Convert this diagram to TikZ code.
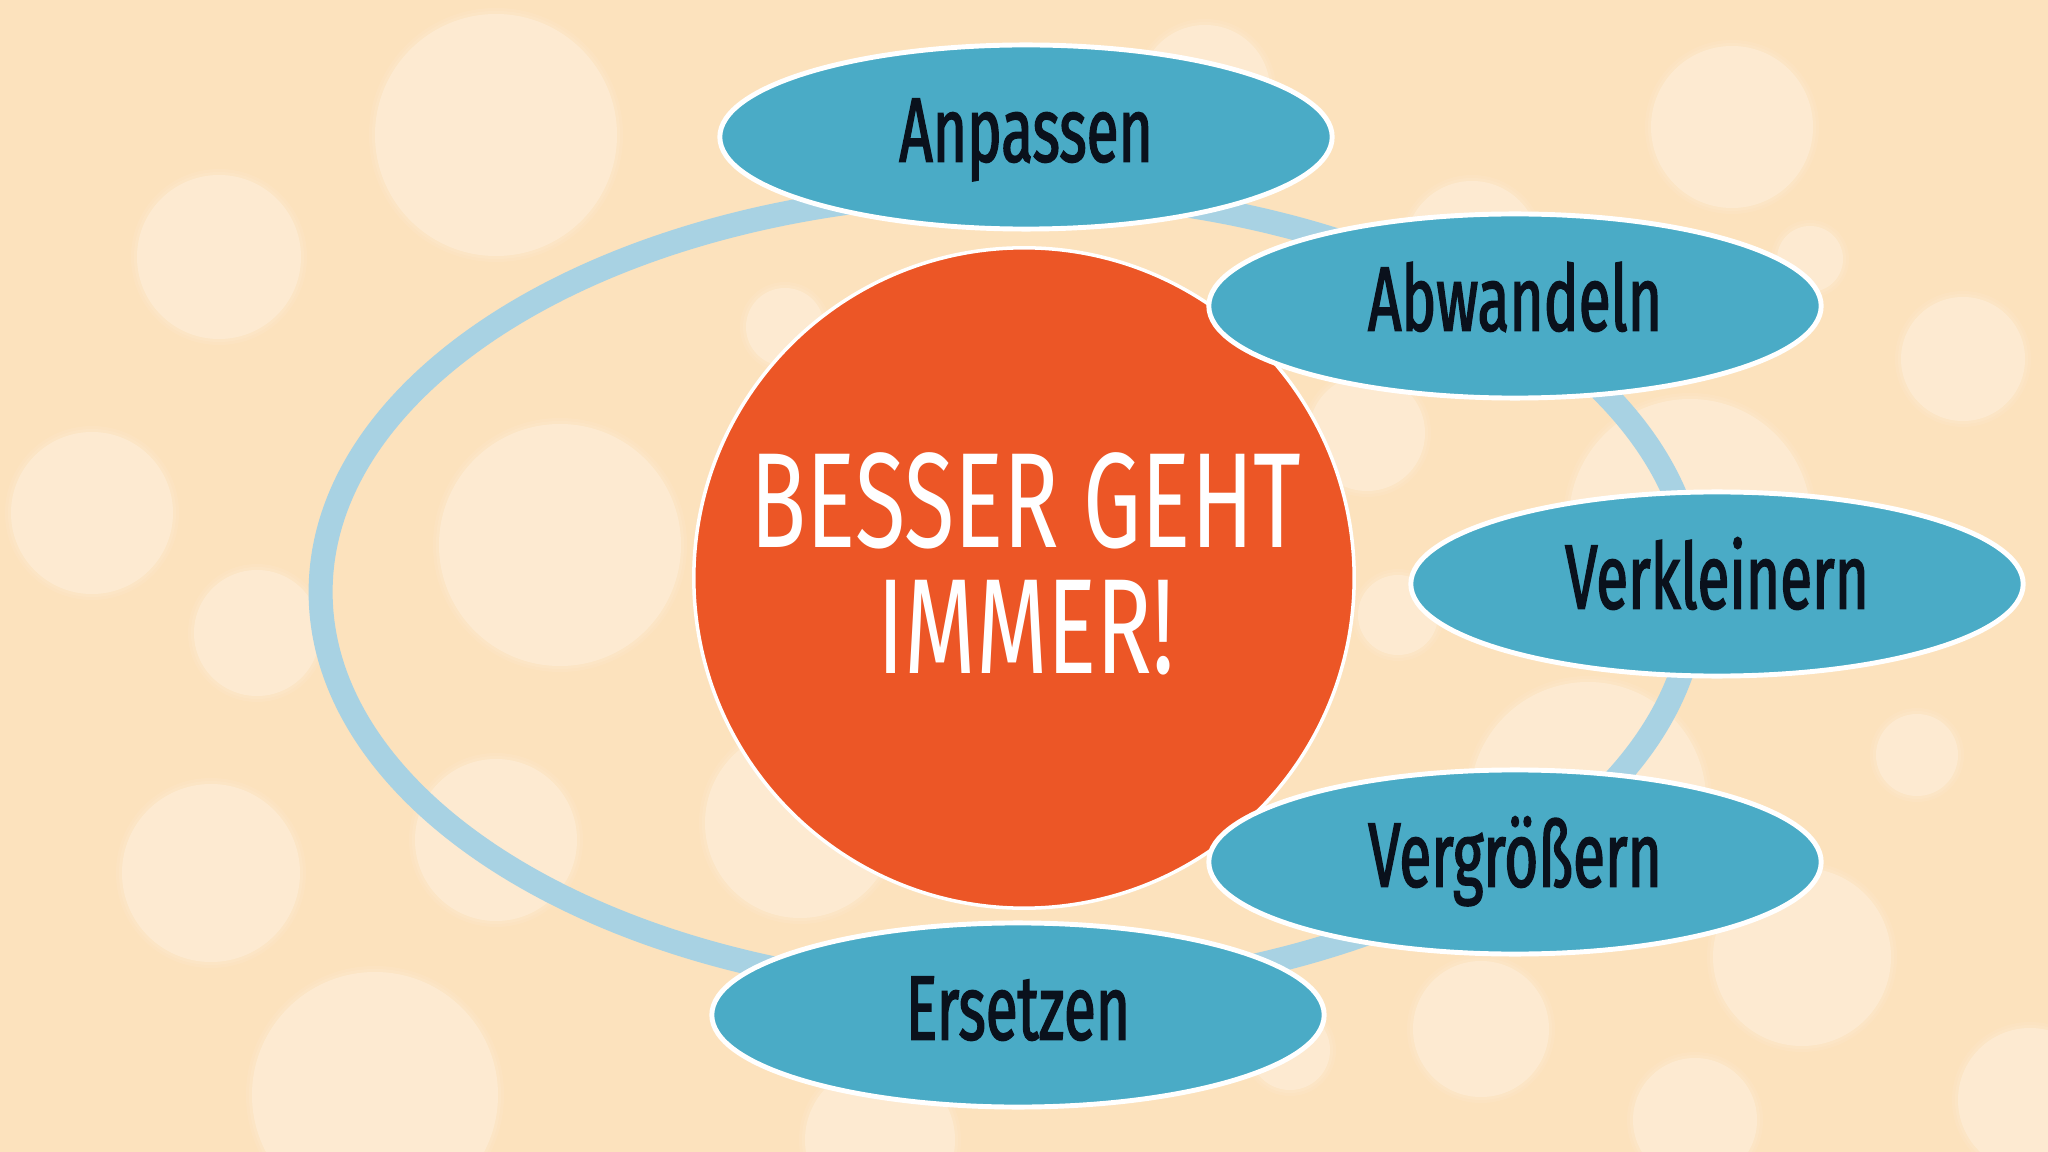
\documentclass[tikz,border=0pt]{standalone}
\usepackage{fontspec}
\newfontfamily\labfont[FakeStretch=0.64,FakeBold=1.6]{Fira Sans}
\newfontfamily\ctrfont[FakeStretch=0.68]{Fira Sans}
\usetikzlibrary{shapes.geometric}
\definecolor{bg}{HTML}{FCE2BD}
\definecolor{bokeh}{HTML}{FFF2E1}
\definecolor{ringc}{HTML}{A8D2E3}
\definecolor{petal}{HTML}{4AABC6}
\definecolor{core}{HTML}{EC5626}
\definecolor{ink}{HTML}{0A111C}
\newcommand\bokehdot[3]{%
  \fill[bokeh, fill opacity=0.12] (#1,#2) circle[radius=#3*0.01cm+0.06cm];
  \fill[bokeh, fill opacity=0.15] (#1,#2) circle[radius=#3*0.01cm+0.03cm];
  \fill[bokeh, fill opacity=0.45] (#1,#2) circle[radius=#3*0.01cm];}
\begin{document}
\begin{tikzpicture}[x=0.01cm,y=-0.01cm,
  petalnode/.style={ellipse, fill=petal, draw=white, line width=1.4pt,
    minimum width=6.12cm, minimum height=1.84cm, inner sep=0pt,
    text height=18pt, text depth=4pt,
    font=\labfont\fontsize{26}{26}\selectfont, text=ink},
  corenode/.style={circle, fill=core, draw=white, line width=1pt,
    minimum size=6.6cm, inner sep=0pt},
  coretext/.style={align=center, text=white, inner sep=0pt,
    font=\ctrfont\fontsize{38.5}{36}\selectfont}]
% background
\fill[bg] (0,0) rectangle (2048,1152);
\useasboundingbox (0,0) rectangle (2048,1152);
% bokeh
\bokehdot{496}{135}{121}
\bokehdot{219}{257}{82}
\bokehdot{92}{513}{81}
\bokehdot{560}{545}{121}
\bokehdot{785}{327}{39}
\bokehdot{257}{633}{63}
\bokehdot{211}{873}{89}
\bokehdot{496}{840}{81}
\bokehdot{375}{1095}{123}
\bokehdot{800}{823}{95}
\bokehdot{880}{1140}{75}
\bokehdot{1732}{127}{81}
\bokehdot{1963}{359}{62}
\bokehdot{1810}{259}{33}
\bokehdot{1472}{248}{67}
\bokehdot{1367}{433}{58}
\bokehdot{1690}{520}{121}
\bokehdot{1205}{90}{65}
\bokehdot{1398}{615}{40}
\bokehdot{1588}{800}{118}
\bokehdot{1917}{755}{41}
\bokehdot{1802}{957}{89}
\bokehdot{1481}{1029}{68}
\bokehdot{1695}{1120}{62}
\bokehdot{2030}{1100}{72}
\bokehdot{1290}{1050}{40}
% ring
\draw[ringc, line width=0.24cm] (1008,592) ellipse[x radius=6.87cm, y radius=4.0cm];
% core
\node[corenode] (core) at (1024,578) {};
\node[coretext] (coretxt) at (1026,564) {BESSER GEHT\\IMMER!};
% petals
\node[petalnode] (anpassen) at (1026,137) {Anpassen};
\node[petalnode] (abwandeln) at (1515,306) {Abwandeln};
\node[petalnode] (verkleinern) at (1717,584) {Verkleinern};
\node[petalnode] (vergroessern) at (1515,862) {Vergrößern};
\node[petalnode] (ersetzen) at (1018,1015) {Ersetzen};
\end{tikzpicture}
\end{document}
